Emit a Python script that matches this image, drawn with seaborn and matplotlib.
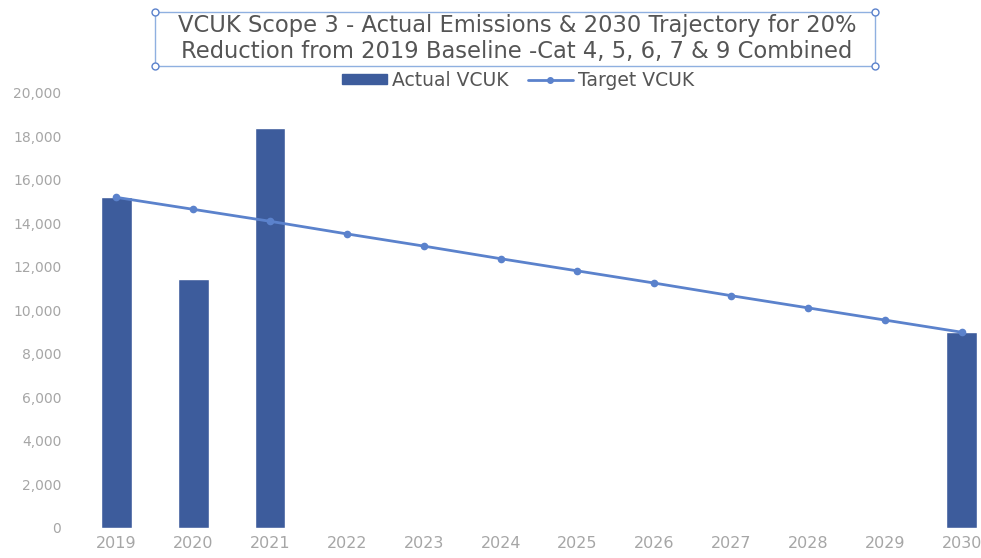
import numpy as np
import pandas as pd
from matplotlib import pyplot as plt
from matplotlib.lines import Line2D
from matplotlib.patches import Patch
import seaborn as sns

years = ['2019', '2020', '2021', '2022', '2023', '2024', '2025',
         '2026', '2027', '2028', '2029', '2030']
actual = [15200, 11450, 18400, np.nan, np.nan, np.nan, np.nan,
          np.nan, np.nan, np.nan, np.nan, 9000]
target = [15200, 14650, 14100, 13520, 12960, 12380, 11820,
          11260, 10680, 10120, 9560, 9000]
yticks = [0, 2000, 4000, 6000, 8000, 10000, 12000, 14000, 16000, 18000, 20000]

bar_col = '#3d5c9c'
line_col = '#5b82cc'
grey = '#a6a6a6'
text_col = '#555555'

df = pd.DataFrame({'year': years, 'actual': actual, 'target': target})

sns.set_style('white')
plt.rcParams['font.family'] = ['DejaVu Sans']

fig = plt.figure(figsize=(9.81, 5.58), dpi=100)
# axis runs a little past the right edge (the original is cropped there)
ax = fig.add_axes([0.0795, 0.0538, 0.94, 0.7796])

sns.barplot(data=df, x='year', y='actual', order=years, color=bar_col,
            width=0.4, saturation=1, ax=ax, errorbar=None)
sns.pointplot(data=df, x='year', y='target', order=years, color=line_col,
              markers='o', markersize=4, linewidth=2, ax=ax, errorbar=None)

ax.set_ylim(0, 20000)
ax.set_yticks(yticks)
ax.set_yticklabels([f'{v:,}' for v in yticks])
ax.set_xlim(-0.5, 11.5)
ax.set_xlabel('')
ax.set_ylabel('')
ax.tick_params(axis='both', length=0, colors=grey)
ax.tick_params(axis='y', labelsize=10, pad=12)
ax.tick_params(axis='x', labelsize=11.5, pad=6)
sns.despine(ax=ax, left=True, bottom=True)

# title with the selection box around it
fig.text(0.527, 0.931, 'VCUK Scope 3 - Actual Emissions & 2030 Trajectory for 20%\n'
         'Reduction from 2019 Baseline -Cat 4, 5, 6, 7 & 9 Combined',
         ha='center', va='center', fontsize=16.3, color=text_col, linespacing=1.15)
bx0, bx1, by0, by1 = 155 / 981, 875 / 981, 1 - 66 / 558, 1 - 12 / 558
fig.add_artist(plt.Rectangle((bx0, by0), bx1 - bx0, by1 - by0, fill=False,
                             edgecolor='#8fb0e0', lw=1, transform=fig.transFigure))
for hx in (bx0, bx1):
    for hy in (by0, by1):
        fig.add_artist(Line2D([hx], [hy], marker='o', markersize=5, mfc='white',
                              mec='#5b82cc', mew=1, transform=fig.transFigure))

handles = [Patch(color=bar_col),
           Line2D([], [], color=line_col, lw=2, marker='o', markersize=4)]
fig.legend(handles, ['Actual VCUK', 'Target VCUK'], loc='center',
           bbox_to_anchor=(0.528, 1 - 80 / 558), ncol=2, frameon=False,
           fontsize=13.5, labelcolor=text_col, handlelength=2.4, handleheight=0.45,
           columnspacing=1.0, handletextpad=0.3)

fig.savefig('out.png', dpi=100)
